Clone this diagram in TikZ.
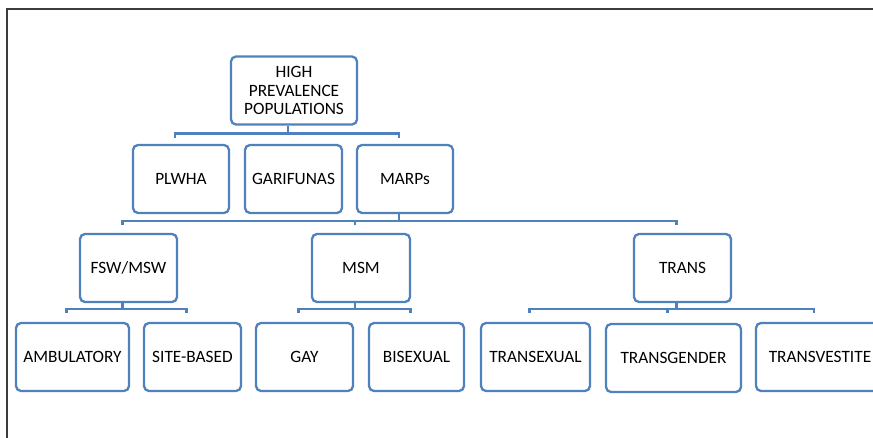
\documentclass[tikz,border=0pt]{standalone}
\usepackage{fontspec}
\setmainfont{Carlito}
\definecolor{boxblue}{RGB}{79,129,189}
\definecolor{framegray}{RGB}{60,60,60}
\tikzset{
	popbox/.style={draw=boxblue, line width=2.3pt, rounded corners=5pt, align=center,
		minimum height=68pt, inner sep=2pt, text=black, font=\fontsize{17.3}{18.8}\selectfont},
	link/.style={draw=boxblue, line width=2.5pt},
}
\begin{document}
\begin{tikzpicture}[x=1pt,y=1pt]
		\useasboundingbox (0,0) rectangle (873,438);
		% Frame
		\draw[framegray, line width=1.5pt] (873,429) -- (7,429) -- (7,0);

		% Top
		\node[popbox, minimum width=126pt] (root) at (294,347.5) {HIGH\\PREVALENCE\\POPULATIONS};

		% Second row
		\node[popbox, minimum width=96pt] (plwha) at (181,259) {PLWHA};
		\node[popbox, minimum width=97pt] (garif) at (293.5,259) {GARIFUNAS};
		\node[popbox, minimum width=96pt] (marps) at (405,259) {MARPs};

		% Third row
		\node[popbox, minimum width=97pt] (fsw) at (128.5,170) {FSW/MSW};
		\node[popbox, minimum width=98pt] (msm) at (361,170) {MSM};
		\node[popbox, minimum width=97pt] (trans) at (682.5,170) {TRANS};

		% Bottom row
		\node[popbox, minimum width=113pt] (amb) at (72.5,81) {AMBULATORY};
		\node[popbox, minimum width=97pt] (site) at (192.5,81) {SITE-BASED};
		\node[popbox, minimum width=97pt] (gay) at (304.5,81) {GAY};
		\node[popbox, minimum width=95pt] (bisex) at (416.5,81) {BISEXUAL};
		\node[popbox, minimum width=109pt] (tsex) at (535.5,81) {TRANSEXUAL};
		\node[popbox, minimum width=135pt] (tgen) at (673.5,80) {TRANSGENDER};
		\node[popbox, minimum width=128pt] (tves) at (820,81) {TRANSVESTITE};

		% Brackets
		\draw[link] ([xshift=-6pt]root.south) -- ++(0,-8) coordinate (bar1);
		\draw[link] ([xshift=-6pt]plwha.north |- bar1) ++(0,-4) -- ++(0,4) -- ([xshift=-6pt]marps.north |- bar1) -- ++(0,-4);

		\draw[link] ([xshift=-6pt]marps.south) -- ++(0,-7) coordinate (bar2);
		\draw[link] ([xshift=-6pt]fsw.north |- bar2) ++(0,-4) -- ++(0,4) -- ([xshift=-6pt]trans.north |- bar2) -- ++(0,-4);
		\draw[link] ([xshift=-6pt]msm.north |- bar2) -- ++(0,-4);

		\draw[link] ([xshift=-6pt]fsw.south) -- ++(0,-6) coordinate (bar3);
		\draw[link] ([xshift=-6pt]amb.north |- bar3) ++(0,-4) -- ++(0,4) -- ([xshift=-6pt]site.north |- bar3) -- ++(0,-4);

		\draw[link] ([xshift=-6pt]msm.south) -- ++(0,-6) coordinate (bar4);
		\draw[link] ([xshift=-6pt]gay.north |- bar4) ++(0,-4) -- ++(0,4) -- ([xshift=-6pt]bisex.north |- bar4) -- ++(0,-4);

		\draw[link] ([xshift=-6pt]trans.south) -- ++(0,-6) coordinate (bar5);
		\draw[link] ([xshift=-6pt]tsex.north |- bar5) ++(0,-4) -- ++(0,4) -- ([xshift=-6pt]tves.north |- bar5) -- ++(0,-4);
		\draw[link] ([xshift=-6pt]tgen.north |- bar5) -- ++(0,-4);
	\end{tikzpicture}
\end{document}
